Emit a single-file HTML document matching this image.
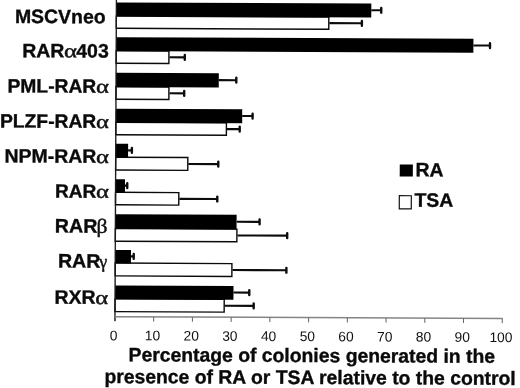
<!DOCTYPE html>
<html><head><meta charset="utf-8"><title>Figure</title>
<style>
html,body{margin:0;padding:0;background:#fff}
body{width:520px;height:388px;overflow:hidden}
svg{display:block;will-change:transform;filter:grayscale(1)}
.l{font-family:"Liberation Sans",sans-serif;font-weight:bold;fill:#0a0a0a;stroke:#0a0a0a;stroke-width:.35px}
.g{font-family:"Liberation Serif",serif;fill:#111;stroke:#111;stroke-width:.45px}
.t{font-family:"Liberation Sans",sans-serif;font-size:13.8px;fill:#111}
.ti{font-family:"Liberation Sans",sans-serif;font-weight:bold;font-size:19.35px;fill:#0a0a0a;stroke:#0a0a0a;stroke-width:.35px}
.lg{font-family:"Liberation Sans",sans-serif;font-weight:bold;font-size:19.4px;fill:#0a0a0a;stroke:#0a0a0a;stroke-width:.35px}
</style></head>
<body>
<svg width="520" height="388" viewBox="0 0 520 388">
<rect width="520" height="388" fill="#fff"/>
<g transform="rotate(0.26 116 2.5)">
<rect x="116.40" y="16.05" width="212.49" height="12.25" fill="#fff" stroke="#0a0a0a" stroke-width="1.4"/>
<path d="M329.49 22.18H361.99" stroke="#0c0c0c" stroke-width="2.1" fill="none"/><path d="M361.99 19.78V24.57" stroke="#0c0c0c" stroke-width="2.4" stroke-linecap="round" fill="none"/>
<rect x="116.40" y="2.40" width="254.93" height="13.95" fill="#000"/>
<path d="M371.33 9.07H381.28" stroke="#0c0c0c" stroke-width="2.1" fill="none"/><path d="M381.28 6.67V11.47" stroke="#0c0c0c" stroke-width="2.4" stroke-linecap="round" fill="none"/>
<rect x="116.40" y="50.80" width="52.75" height="12.50" fill="#fff" stroke="#0a0a0a" stroke-width="1.4"/>
<path d="M169.75 57.05H185.05" stroke="#0c0c0c" stroke-width="2.1" fill="none"/><path d="M185.05 54.65V59.45" stroke="#0c0c0c" stroke-width="2.4" stroke-linecap="round" fill="none"/>
<rect x="116.40" y="37.15" width="357.19" height="13.95" fill="#000"/>
<path d="M473.59 43.83H490.19" stroke="#0c0c0c" stroke-width="2.1" fill="none"/><path d="M490.19 41.43V46.23" stroke="#0c0c0c" stroke-width="2.4" stroke-linecap="round" fill="none"/>
<rect x="116.40" y="86.80" width="52.91" height="12.50" fill="#fff" stroke="#0a0a0a" stroke-width="1.4"/>
<path d="M169.91 93.05H184.61" stroke="#0c0c0c" stroke-width="2.1" fill="none"/><path d="M184.61 90.65V95.45" stroke="#0c0c0c" stroke-width="2.4" stroke-linecap="round" fill="none"/>
<rect x="116.40" y="72.80" width="102.75" height="14.30" fill="#000"/>
<path d="M219.15 79.65H236.65" stroke="#0c0c0c" stroke-width="2.1" fill="none"/><path d="M236.65 77.25V82.05" stroke="#0c0c0c" stroke-width="2.4" stroke-linecap="round" fill="none"/>
<rect x="116.40" y="122.40" width="110.57" height="12.40" fill="#fff" stroke="#0a0a0a" stroke-width="1.4"/>
<path d="M227.57 128.60H240.27" stroke="#0c0c0c" stroke-width="2.1" fill="none"/><path d="M240.27 126.20V131.00" stroke="#0c0c0c" stroke-width="2.4" stroke-linecap="round" fill="none"/>
<rect x="116.40" y="108.80" width="126.31" height="13.90" fill="#000"/>
<path d="M242.71 115.45H253.11" stroke="#0c0c0c" stroke-width="2.1" fill="none"/><path d="M253.11 113.05V117.85" stroke="#0c0c0c" stroke-width="2.4" stroke-linecap="round" fill="none"/>
<rect x="116.40" y="157.20" width="72.13" height="12.85" fill="#fff" stroke="#0a0a0a" stroke-width="1.4"/>
<path d="M189.13 163.62H219.03" stroke="#0c0c0c" stroke-width="2.1" fill="none"/><path d="M219.03 161.22V166.03" stroke="#0c0c0c" stroke-width="2.4" stroke-linecap="round" fill="none"/>
<rect x="116.40" y="143.80" width="12.37" height="13.70" fill="#000"/>
<path d="M128.77 150.35H132.57" stroke="#0c0c0c" stroke-width="2.1" fill="none"/><path d="M132.57 147.95V152.75" stroke="#0c0c0c" stroke-width="2.4" stroke-linecap="round" fill="none"/>
<rect x="116.40" y="192.30" width="63.28" height="12.50" fill="#fff" stroke="#0a0a0a" stroke-width="1.4"/>
<path d="M180.28 198.55H218.18" stroke="#0c0c0c" stroke-width="2.1" fill="none"/><path d="M218.18 196.15V200.95" stroke="#0c0c0c" stroke-width="2.4" stroke-linecap="round" fill="none"/>
<rect x="116.40" y="179.15" width="9.42" height="13.45" fill="#000"/>
<path d="M125.82 185.57H128.07" stroke="#0c0c0c" stroke-width="2.1" fill="none"/><path d="M128.07 183.17V187.97" stroke="#0c0c0c" stroke-width="2.4" stroke-linecap="round" fill="none"/>
<rect x="116.40" y="228.55" width="121.55" height="12.65" fill="#fff" stroke="#0a0a0a" stroke-width="1.4"/>
<path d="M238.55 234.88H288.25" stroke="#0c0c0c" stroke-width="2.1" fill="none"/><path d="M288.25 232.47V237.28" stroke="#0c0c0c" stroke-width="2.4" stroke-linecap="round" fill="none"/>
<rect x="116.40" y="214.30" width="121.18" height="14.55" fill="#000"/>
<path d="M237.58 221.27H260.58" stroke="#0c0c0c" stroke-width="2.1" fill="none"/><path d="M260.58 218.87V223.67" stroke="#0c0c0c" stroke-width="2.4" stroke-linecap="round" fill="none"/>
<rect x="116.40" y="263.05" width="116.70" height="12.85" fill="#fff" stroke="#0a0a0a" stroke-width="1.4"/>
<path d="M233.70 269.48H287.60" stroke="#0c0c0c" stroke-width="2.1" fill="none"/><path d="M287.60 267.08V271.88" stroke="#0c0c0c" stroke-width="2.4" stroke-linecap="round" fill="none"/>
<rect x="116.40" y="249.90" width="15.74" height="13.45" fill="#000"/>
<path d="M132.14 256.32H134.89" stroke="#0c0c0c" stroke-width="2.1" fill="none"/><path d="M134.89 253.92V258.72" stroke="#0c0c0c" stroke-width="2.4" stroke-linecap="round" fill="none"/>
<rect x="116.40" y="298.90" width="109.16" height="12.70" fill="#fff" stroke="#0a0a0a" stroke-width="1.4"/>
<path d="M226.16 305.25H255.06" stroke="#0c0c0c" stroke-width="2.1" fill="none"/><path d="M255.06 302.85V307.65" stroke="#0c0c0c" stroke-width="2.4" stroke-linecap="round" fill="none"/>
<rect x="116.40" y="285.40" width="118.40" height="13.80" fill="#000"/>
<path d="M234.80 292.00H250.60" stroke="#0c0c0c" stroke-width="2.1" fill="none"/><path d="M250.60 289.60V294.40" stroke="#0c0c0c" stroke-width="2.4" stroke-linecap="round" fill="none"/>
<path d="M116.40 -3V321" stroke="#1a1a1a" stroke-width="1.35" fill="none"/>
<path d="M116.40 316.7H504.20" stroke="#858585" stroke-width="1.5" fill="none"/>
<path d="M116.40 317V321.4M155.13 317V321.4M193.86 317V321.4M232.59 317V321.4M271.32 317V321.4M310.05 317V321.4M348.78 317V321.4M387.51 317V321.4M426.24 317V321.4M464.97 317V321.4M503.70 317V321.4" stroke="#505050" stroke-width="0.9" fill="none"/>
<text class="t" transform="translate(115.20 340.20) scale(1 1.0)" text-anchor="middle">0</text>
<text class="t" transform="translate(153.93 340.20) scale(1 1.0)" text-anchor="middle">10</text>
<text class="t" transform="translate(192.66 340.20) scale(1 1.0)" text-anchor="middle">20</text>
<text class="t" transform="translate(231.39 340.20) scale(1 1.0)" text-anchor="middle">30</text>
<text class="t" transform="translate(270.12 340.20) scale(1 1.0)" text-anchor="middle">40</text>
<text class="t" transform="translate(308.85 340.20) scale(1 1.0)" text-anchor="middle">50</text>
<text class="t" transform="translate(347.58 340.20) scale(1 1.0)" text-anchor="middle">60</text>
<text class="t" transform="translate(386.31 340.20) scale(1 1.0)" text-anchor="middle">70</text>
<text class="t" transform="translate(425.04 340.20) scale(1 1.0)" text-anchor="middle">80</text>
<text class="t" transform="translate(463.77 340.20) scale(1 1.0)" text-anchor="middle">90</text>
<text class="t" transform="translate(502.50 340.20) scale(1 1.0)" text-anchor="middle">100</text>
<text class="l" font-size="19.45" transform="translate(105.69 23.40) scale(1 1.0)" text-anchor="end">MSCVneo</text>
<text class="l" font-size="19.45" transform="translate(64.65 57.60) scale(1 1.0)" text-anchor="end">RAR</text>
<text class="g" font-size="19" transform="translate(64.25 57.60) scale(1.3 1)">α</text>
<text class="l" font-size="19.45" transform="translate(76.55 57.60) scale(1 1.0)" text-anchor="start">403</text>
<text class="l" font-size="19.27" transform="translate(96.70 92.90) scale(1 1.0)" text-anchor="end">PML-RAR</text>
<text class="g" font-size="19" transform="translate(96.30 92.90) scale(1.3 1)">α</text>
<text class="l" font-size="19.27" transform="translate(96.86 128.00) scale(1 1.0)" text-anchor="end">PLZF-RAR</text>
<text class="g" font-size="19" transform="translate(96.46 128.00) scale(1.3 1)">α</text>
<text class="l" font-size="19.45" transform="translate(97.02 163.00) scale(1 1.0)" text-anchor="end">NPM-RAR</text>
<text class="g" font-size="19" transform="translate(96.62 163.00) scale(1.3 1)">α</text>
<text class="l" font-size="19.1" transform="translate(97.18 197.90) scale(1 1.0)" text-anchor="end">RAR</text>
<text class="g" font-size="19" transform="translate(96.78 197.90) scale(1.3 1)">α</text>
<text class="l" font-size="19.6" transform="translate(98.33 232.80) scale(1 1.0)" text-anchor="end">RAR</text>
<text class="g" font-size="20" transform="translate(97.53 232.80) scale(1.08 1)">β</text>
<text class="l" font-size="19.6" transform="translate(101.59 267.80) scale(1 1.0)" text-anchor="end">RAR</text>
<text class="g" font-size="19" transform="translate(100.54 267.80) scale(0.95 1)">γ</text>
<text class="l" font-size="19.45" transform="translate(97.00 304.00) scale(1 1.0)" text-anchor="end">RXR</text>
<text class="g" font-size="19" transform="translate(96.55 304.00) scale(1.3 1)">α</text>
<rect x="400.5" y="163.2" width="13.1" height="12" fill="#000"/>
<text class="lg" transform="translate(416.20 175.00) scale(1 1.0)" text-anchor="start">RA</text>
<rect x="400.2" y="194.4" width="12.0" height="13.2" fill="#fff" stroke="#111" stroke-width="1.2"/>
<text class="lg" transform="translate(415.40 205.30) scale(1 1.0)" text-anchor="start">TSA</text>
<text class="ti" transform="translate(313.40 361.20) scale(1 1.0)" text-anchor="middle">Percentage of colonies generated in the</text>
<text class="ti" transform="translate(311.80 383.10) scale(1 1.0)" text-anchor="middle">presence of RA or TSA relative to the control</text>
</g>
</svg>
</body></html>
